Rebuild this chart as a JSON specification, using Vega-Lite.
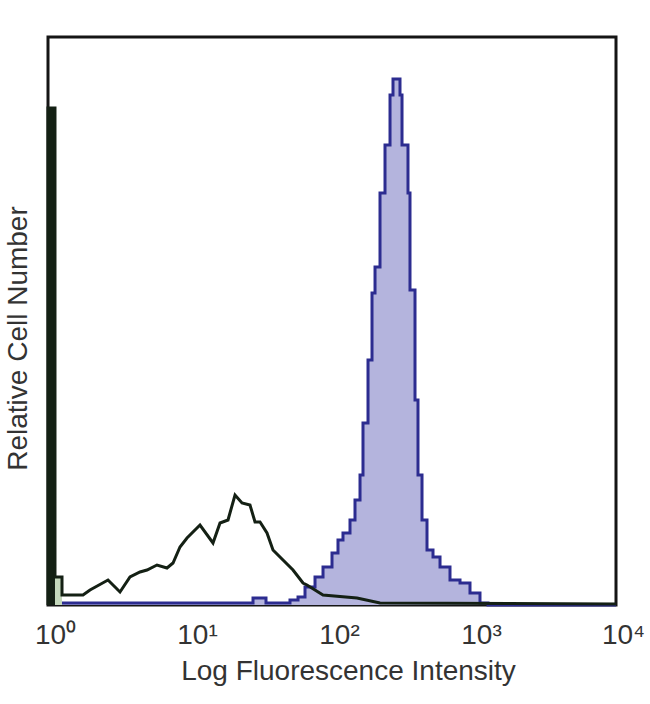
{
  "$schema": "https://vega.github.io/schema/vega-lite/v6.json",
  "width": 568,
  "height": 568,
  "autosize": {"type": "none"},
  "padding": {"left": 48, "top": 37, "right": 34, "bottom": 99},
  "background": "white",
  "config": {
    "view": {"stroke": "#151515", "strokeWidth": 3},
    "font": "Liberation Sans"
  },
  "datasets": {
    "blue": [
      {"x": 1, "v": 0.35},
      {"x": 27.78, "v": 1.23},
      {"x": 34.29, "v": 0.35},
      {"x": 50.6, "v": 0.88},
      {"x": 57.63, "v": 1.41},
      {"x": 64.55, "v": 3.17},
      {"x": 75.93, "v": 4.93},
      {"x": 86.44, "v": 6.69},
      {"x": 100, "v": 9.15},
      {"x": 110.2, "v": 11.44},
      {"x": 119.5, "v": 12.68},
      {"x": 133.9, "v": 14.96},
      {"x": 145.2, "v": 18.49},
      {"x": 157.5, "v": 22.89},
      {"x": 165.3, "v": 32.04},
      {"x": 179.3, "v": 43.13},
      {"x": 191.3, "v": 54.93},
      {"x": 200.9, "v": 59.51},
      {"x": 217.8, "v": 72.54},
      {"x": 236.2, "v": 80.99},
      {"x": 256.2, "v": 89.79},
      {"x": 268.9, "v": 92.61},
      {"x": 301.2, "v": 89.79},
      {"x": 311.2, "v": 80.99},
      {"x": 342.9, "v": 72.54},
      {"x": 354.2, "v": 55.46},
      {"x": 384.2, "v": 36.09},
      {"x": 403.3, "v": 22.89},
      {"x": 430.4, "v": 14.96},
      {"x": 466.7, "v": 9.68},
      {"x": 514.4, "v": 8.45},
      {"x": 576.4, "v": 6.69},
      {"x": 677.6, "v": 4.4},
      {"x": 797.0, "v": 3.87},
      {"x": 937.1, "v": 2.11},
      {"x": 1102, "v": 0.35},
      {"x": 1255, "v": 0},
      {"x": 10000, "v": 0}
    ],
    "black": [
      {"i": 0, "x": 1, "v": 0},
      {"i": 1, "x": 1, "v": 87.5},
      {"i": 2, "x": 1.12, "v": 87.5},
      {"i": 3, "x": 1.12, "v": 4.93},
      {"i": 4, "x": 1.255, "v": 4.93},
      {"i": 5, "x": 1.255, "v": 1.76},
      {"i": 6, "x": 1.764, "v": 1.76},
      {"i": 7, "x": 1.976, "v": 2.64},
      {"i": 8, "x": 2.646, "v": 4.4},
      {"i": 9, "x": 3.214, "v": 2.29},
      {"i": 10, "x": 3.78, "v": 4.93},
      {"i": 11, "x": 4.445, "v": 5.81},
      {"i": 12, "x": 4.98, "v": 6.16},
      {"i": 13, "x": 5.855, "v": 7.04},
      {"i": 14, "x": 6.887, "v": 6.51},
      {"i": 15, "x": 7.592, "v": 7.39},
      {"i": 16, "x": 8.503, "v": 10.21},
      {"i": 17, "x": 9.526, "v": 11.8},
      {"i": 18, "x": 11.76, "v": 14.08},
      {"i": 19, "x": 14.52, "v": 10.92},
      {"i": 20, "x": 16.27, "v": 14.44},
      {"i": 21, "x": 18.52, "v": 14.96},
      {"i": 22, "x": 20.75, "v": 19.37},
      {"i": 23, "x": 23.24, "v": 17.96},
      {"i": 24, "x": 26.45, "v": 17.61},
      {"i": 25, "x": 28.7, "v": 14.61},
      {"i": 26, "x": 31.12, "v": 14.61},
      {"i": 27, "x": 34.85, "v": 12.68},
      {"i": 28, "x": 38.41, "v": 9.68},
      {"i": 29, "x": 45.18, "v": 7.92},
      {"i": 30, "x": 53.14, "v": 6.16},
      {"i": 31, "x": 62.5, "v": 3.87},
      {"i": 32, "x": 66.66, "v": 3.52},
      {"i": 33, "x": 86.44, "v": 1.76},
      {"i": 34, "x": 150.0, "v": 1.23},
      {"i": 35, "x": 217.8, "v": 0.35},
      {"i": 36, "x": 10000, "v": 0.18}
    ]
  },
  "encoding": {
    "x": {
      "field": "x",
      "type": "quantitative",
      "scale": {"type": "log", "domain": [1, 10000], "nice": false},
      "axis": {
        "title": "Log Fluorescence Intensity",
        "titleFont": "Liberation Sans",
        "titleFontSize": 28,
        "titleFontWeight": "normal",
        "titleColor": "#333333",
        "titlePadding": 8,
        "titleX": 300,
        "values": [1, 10, 100, 1000, 10000],
        "labelExpr": "'10' + ['⁰','¹','²','³','⁴'][round(log(datum.value)/LN10)]",
        "labelFont": "Liberation Sans",
        "labelFontSize": 28,
        "labelColor": "#333333",
        "labelPadding": 16,
        "labelOffset": 7,
        "labelFlush": false,
        "labelOverlap": false,
        "ticks": false,
        "domain": false,
        "grid": false
      }
    },
    "y": {
      "field": "v",
      "type": "quantitative",
      "scale": {"domain": [0, 100], "nice": false},
      "axis": {
        "title": "Relative Cell Number",
        "titleFont": "Liberation Sans",
        "titleFontSize": 28,
        "titleFontWeight": "normal",
        "titleColor": "#333333",
        "titlePadding": 16,
        "titleY": 301,
        "labels": false,
        "ticks": false,
        "domain": false,
        "grid": false
      }
    }
  },
  "layer": [
    {
      "data": {"name": "blue"},
      "mark": {"type": "area", "interpolate": "step-after", "color": "#b4b4dd"}
    },
    {
      "data": {"name": "blue"},
      "mark": {"type": "line", "interpolate": "step-after", "color": "#2c2c90", "strokeWidth": 3}
    },
    {
      "data": {"name": "black"},
      "transform": [{"filter": "datum.i == 3 || datum.i == 4"}],
      "mark": {"type": "area", "color": "#c4d8bc"}
    },
    {
      "data": {"name": "black"},
      "transform": [{"filter": "datum.i == 1 || datum.i == 2"}],
      "mark": {"type": "area", "color": "#142014"}
    },
    {
      "data": {"name": "black"},
      "mark": {"type": "line", "color": "#142014", "strokeWidth": 3},
      "encoding": {"order": {"field": "i", "type": "quantitative"}}
    }
  ]
}
